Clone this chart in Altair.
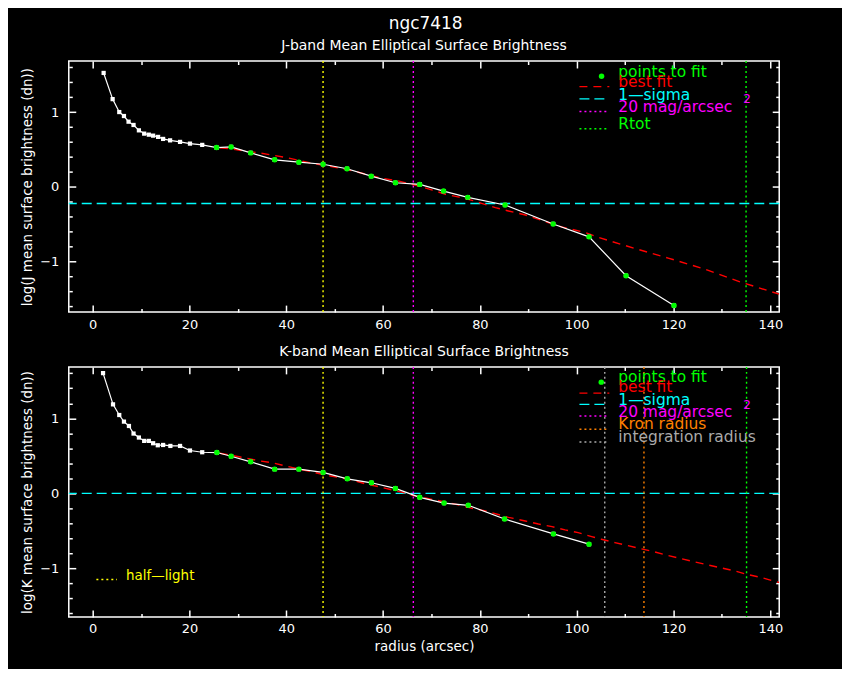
import altair as alt
import pandas as pd

FONT = "DejaVu Sans"

# J band: radius (arcsec) and log mean surface brightness (dn)
j_r = [2.26, 4.12, 5.49, 6.46, 7.41, 8.44, 9.55, 10.64, 11.6, 12.49, 13.52, 14.55, 15.99, 18.05, 20.1, 22.63,
       25.6, 28.6, 32.65, 37.6, 42.6, 47.6, 52.55, 57.55, 62.55, 67.57, 72.5, 77.5, 85.2, 95.14, 102.55, 110.2, 120.1]
j_mu = [1.524, 1.173, 1.0, 0.947, 0.871, 0.827, 0.755, 0.711, 0.697, 0.684, 0.667, 0.64, 0.621, 0.6, 0.577, 0.56,
        0.524, 0.533, 0.453, 0.36, 0.328, 0.301, 0.24, 0.141, 0.053, 0.031, -0.059, -0.143, -0.245, -0.499, -0.672,
        -1.192, -1.592]
j_fit_r = [26.3, 28.7, 31.8, 34.5, 37.2, 40, 42.7, 45.5, 48.2, 51, 53.7, 59.2, 63.3, 67.4, 70.2, 72.9, 75.7, 78.4,
           80.5, 83.2, 85.9, 89.4, 96.9, 101.7, 104.5, 112, 118.9, 126.4, 134, 141.85]
j_fit_mu = [0.52, 0.507, 0.475, 0.453, 0.421, 0.391, 0.351, 0.311, 0.284, 0.248, 0.213, 0.12, 0.075, 0.008, -0.045,
            -0.103, -0.139, -0.183, -0.227, -0.28, -0.325, -0.379, -0.539, -0.613, -0.68, -0.827, -0.956, -1.103,
            -1.28, -1.44]
j_sigma = -0.225
j_half_light = 47.6
j_mag20 = 66.25
j_rtot = 135.0

# K band
k_r = [2.14, 4.2, 5.49, 6.46, 7.49, 8.44, 9.55, 10.64, 11.6, 12.49, 13.45, 14.55, 16.05, 18.05, 20.1, 22.63,
       25.66, 28.6, 32.65, 37.6, 42.6, 47.6, 52.6, 57.6, 62.55, 67.57, 72.6, 77.6, 85.1, 95.2, 102.55]
k_mu = [1.602, 1.186, 1.044, 0.956, 0.898, 0.797, 0.744, 0.699, 0.699, 0.668, 0.641, 0.645, 0.632, 0.632, 0.571,
        0.548, 0.544, 0.495, 0.42, 0.323, 0.323, 0.279, 0.194, 0.141, 0.066, -0.053, -0.129, -0.159, -0.341, -0.54,
        -0.677]
k_fit_r = [26.3, 31.8, 34.5, 37.2, 40, 42.7, 45.5, 48.2, 51, 53.7, 56.5, 59.2, 64, 66.7, 70.2, 75.7, 78.4, 81.2,
           85.9, 89.4, 92.1, 94.9, 97.6, 100.3, 103.1, 105.1, 107.9, 110.6, 113.4, 116.1, 118.9, 121.6, 124.4,
           127.1, 129.8, 132.6, 135.3, 138.1, 140.8, 141.85]
k_fit_mu = [0.535, 0.469, 0.433, 0.406, 0.363, 0.323, 0.283, 0.243, 0.21, 0.177, 0.124, 0.088, 0.013, -0.036, -0.08,
            -0.155, -0.199, -0.235, -0.319, -0.368, -0.408, -0.443, -0.487, -0.523, -0.576, -0.611, -0.656, -0.696,
            -0.74, -0.78, -0.829, -0.869, -0.913, -0.953, -0.992, -1.032, -1.081, -1.121, -1.169, -1.187]
k_sigma = 0.0
k_half_light = 47.6
k_mag20 = 66.25
k_integ = 105.8
k_kron = 113.9
k_rtot = 135.1

fit_from = 25  # radius where the fitted points start

x_ticks = [0, 20, 40, 60, 80, 100, 120, 140]
x_minor = [10, 30, 50, 70, 90, 110, 130]
y_ticks = [-1, 0, 1]
y_minor = [-1.6, -1.4, -1.2, -0.8, -0.6, -0.4, -0.2, 0.2, 0.4, 0.6, 0.8, 1.2, 1.4, 1.6]

GREEN, RED, CYAN, MAGENTA = "#00ff00", "#ff0000", "#00ffff", "#ff00ff"
YELLOW, ORANGE, GREY = "#ffff00", "#ff8000", "#aaaaaa"
DOT = [2, 3]
THIN = 1.4

one = pd.DataFrame({"k": [0]})
x_scale = alt.Scale(domain=[-4.94, 141.85], nice=False, zero=False)


def ax(orient, values, size, labels=False, title=None, pad=6, **kw):
    # inward ticks: shift the axis into the plot by its tick length
    return alt.Axis(orient=orient, values=values, tickSize=size, offset=-size, domain=False, grid=False,
                    labels=labels, title=title, tickColor="white", tickWidth=1.5, labelColor="white",
                    labelFont=FONT, labelFontSize=13, labelPadding=pad, titleColor="white", titleFont=FONT,
                    titleFontSize=13.5, titleFontWeight="normal", **kw)


def text(s, color, x, y, size=15.5):
    return alt.Chart(one).mark_text(text=s, color=color, font=FONT, fontSize=size, align="left",
                                    baseline="middle").encode(x=alt.value(x), y=alt.value(y))


def sample(color, y, dash, x1=512.5, x2=542.5):
    return alt.Chart(one).mark_rule(color=color, strokeDash=dash, strokeWidth=THIN).encode(
        x=alt.value(x1), x2=alt.value(x2), y=alt.value(y))


def vline(x, color):
    return alt.Chart(pd.DataFrame({"r": [x]})).mark_rule(color=color, strokeDash=DOT, strokeWidth=THIN).encode(
        x=alt.X("r:Q", scale=x_scale, axis=None))


def panel(band, r, mu, fit_r, fit_mu, sigma, ydom, vlines, legend, height, xtitle):
    prof = pd.DataFrame({"r": r, "mu": mu})
    fit = pd.DataFrame({"r": fit_r, "mu": fit_mu})
    ys = alt.Scale(domain=ydom, nice=False, zero=False)
    ytitle = f"log({band} mean surface brightness (dn))"

    line = alt.Chart(prof).mark_line(color="white", strokeWidth=1.2).encode(
        x=alt.X("r:Q", scale=x_scale, axis=ax("bottom", x_ticks, 7, labels=True, title=xtitle, titlePadding=4)),
        y=alt.Y("mu:Q", scale=ys, axis=ax("left", y_ticks, 7, labels=True, title=ytitle, pad=10,
                                          titlePadding=5)))
    pts = alt.Chart(prof).mark_point(shape="square", filled=True, size=18, color="white", opacity=1).encode(
        x=alt.X("r:Q", scale=x_scale, axis=ax("top", x_ticks, 7)),
        y=alt.Y("mu:Q", scale=ys, axis=ax("right", y_ticks, 7)))
    good = alt.Chart(prof).transform_filter(alt.datum.r >= fit_from).mark_circle(
        color=GREEN, size=30, opacity=1).encode(
        x=alt.X("r:Q", scale=x_scale, axis=ax("bottom", x_minor, 3.5)),
        y=alt.Y("mu:Q", scale=ys, axis=ax("left", y_minor, 3.5)))
    best = alt.Chart(fit).mark_line(color=RED, strokeWidth=THIN, strokeDash=[8, 6], clip=True).encode(
        x=alt.X("r:Q", scale=x_scale, axis=ax("top", x_minor, 3.5)),
        y=alt.Y("mu:Q", scale=ys, axis=ax("right", y_minor, 3.5)))
    sig = alt.Chart(pd.DataFrame({"mu": [sigma]})).mark_rule(color=CYAN, strokeDash=[10, 5],
                                                             strokeWidth=THIN).encode(
        y=alt.Y("mu:Q", scale=ys, axis=None))

    layers = [sig] + [vline(v, c) for v, c in vlines] + [best, line, pts, good] + legend
    return alt.layer(*layers).resolve_axis(x="independent", y="independent").properties(
        width=713, height=height,
        title=alt.TitleParams(f"{band}-band Mean Elliptical Surface Brightness", color="white", font=FONT,
                              fontSize=14, fontWeight="normal", anchor="middle", frame="group", offset=7))


top_legend = [
    alt.Chart(one).mark_circle(color=GREEN, size=30, opacity=1).encode(x=alt.value(534.7), y=alt.value(15.3)),
    text("points to fit", GREEN, 551.5, 10.7),
    text("best fit", RED, 551.5, 20.7), sample(RED, 25.7, [8, 6]),
    text("1\u2014sigma", CYAN, 551.5, 34), sample(CYAN, 38, [10, 5]),
    text("20 mag/arcsec", MAGENTA, 551.5, 45.7), text("2", MAGENTA, 677, 38, 12), sample(MAGENTA, 50.7, DOT),
    text("Rtot", GREEN, 551.5, 63.3), sample(GREEN, 68, DOT),
]
bottom_legend = [
    alt.Chart(one).mark_circle(color=GREEN, size=30, opacity=1).encode(x=alt.value(534.4), y=alt.value(15.3)),
    text("points to fit", GREEN, 551.5, 10.3),
    text("best fit", RED, 551.5, 20.3), sample(RED, 26.3, [8, 6]),
    text("1\u2014sigma", CYAN, 551.5, 33.6), sample(CYAN, 37.6, [10, 5]),
    text("20 mag/arcsec", MAGENTA, 551.5, 45.3), text("2", MAGENTA, 677, 38.6, 12), sample(MAGENTA, 49.3, DOT),
    text("Kron radius", ORANGE, 551.5, 57.6), sample(ORANGE, 62.6, DOT),
    text("integration radius", GREY, 551.5, 70.3), sample(GREY, 75.3, DOT),
    text("half\u2014light", YELLOW, 57.4, 210, 13.5), sample(YELLOW, 213.3, DOT, 27.7, 48.4),
]

top = panel("J", j_r, j_mu, j_fit_r, j_fit_mu, j_sigma, [-1.68, 1.684],
            [(j_half_light, YELLOW), (j_mag20, MAGENTA), (j_rtot, GREEN)], top_legend, 252, None)
bottom = panel("K", k_r, k_mu, k_fit_r, k_fit_mu, k_sigma, [-1.647, 1.685],
               [(k_half_light, YELLOW), (k_mag20, MAGENTA), (k_integ, GREY), (k_kron, ORANGE), (k_rtot, GREEN)],
               bottom_legend, 251, "radius (arcsec)")

chart = alt.vconcat(top, bottom, spacing=12).properties(
    title=alt.TitleParams("ngc7418", color="white", font=FONT, fontSize=17, fontWeight="normal",
                          anchor="middle", offset=6, dx=24)
).configure(background="black", padding={"left": 12, "top": 5, "right": 58, "bottom": 13}).configure_view(
    stroke="white", strokeWidth=1.5)

chart.save("out.html", embed_options={"renderer": "svg", "actions": False})
